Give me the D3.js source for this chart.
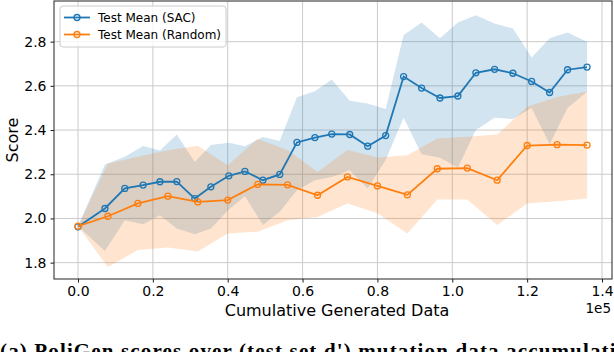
<!DOCTYPE html>
<html>
<head>
<meta charset="utf-8">
<script src="https://cdn.jsdelivr.net/npm/d3@7"></script>
<style>
  body { margin: 0; background: #fff; overflow: hidden; }
  svg { display: block; font-family: "DejaVu Sans", sans-serif; }
</style>
</head>
<body>
<script>
// data, x in raw samples (axis shown as 1e5)
var sacX = [0, 7200, 12500, 17400, 21900, 26400, 31200, 35500, 40300, 44600, 49400, 53900, 58500, 63300, 67800,
            72600, 77400, 82200, 87000, 91800, 96700, 101500, 106300, 111300, 116200, 121200, 126000, 130800, 136000];
var sacMean = [1.962, 2.045, 2.136, 2.151, 2.166, 2.167, 2.09, 2.143, 2.193, 2.213, 2.173, 2.199, 2.344, 2.366, 2.382,
               2.38, 2.327, 2.375, 2.642, 2.59, 2.545, 2.554, 2.659, 2.675, 2.657, 2.62, 2.57, 2.673, 2.685];
var sacUpper = [1.965, 2.244, 2.279, 2.328, 2.308, 2.38, 2.256, 2.332, 2.342, 2.327, 2.369, 2.351, 2.548, 2.576, 2.629,
                2.533, 2.52, 2.495, 2.83, 2.887, 2.815, 2.887, 2.92, 2.882, 2.86, 2.728, 2.815, 2.842, 2.80];
var sacLower = [1.965, 1.853, 1.992, 1.974, 2.015, 1.955, 1.929, 1.955, 2.041, 2.10, 1.97, 2.03, 2.128, 2.173, 2.188,
                2.218, 2.136, 2.264, 2.456, 2.29, 2.275, 2.23, 2.40, 2.456, 2.45, 2.50, 2.336, 2.50, 2.573];

var rndX = [0, 8000, 16000, 24000, 32000, 40000, 48000, 56000, 64000, 72000, 80000, 88000, 96000, 104000, 112000,
            120000, 128000, 136000];
var rndMean = [1.965, 2.01, 2.068, 2.101, 2.075, 2.083, 2.154, 2.152, 2.105, 2.188, 2.147, 2.107, 2.225, 2.228, 2.173,
               2.33, 2.334, 2.332];
var rndUpper = [1.965, 2.249, 2.279, 2.309, 2.329, 2.241, 2.36, 2.31, 2.21, 2.31, 2.276, 2.286, 2.362, 2.37, 2.38,
                2.505, 2.55, 2.575];
var rndLower = [1.965, 1.78, 1.857, 1.869, 1.85, 1.932, 1.94, 1.992, 2.007, 2.068, 2.023, 1.932, 2.086, 2.086, 1.97,
                2.068, 2.078, 2.09];

var xTicks = [0, 20000, 40000, 60000, 80000, 100000, 120000, 140000];
var yTicks = [1.8, 2.0, 2.2, 2.4, 2.6, 2.8];
var seriesNames = ["Test Mean (SAC)", "Test Mean (Random)"];
var caption = "(a) PoliGen scores over (test set d') mutation data accumulation";

var width = 614, height = 352;
var plotL = 54, plotR = 612, plotT = 1, plotB = 279;
var blue = "#1f77b4", orange = "#ff7f0e";

var svg = d3.select("body").append("svg").attr("width", width).attr("height", height);

var xScale = d3.scaleLinear().domain([-6410, 142670]).range([plotL, plotR]);
var yScale = d3.scaleLinear().domain([1.726, 2.984]).range([plotB, plotT]);

// grid
svg.append("g").selectAll("line").data(xTicks).join("line")
    .attr("x1", d => xScale(d)).attr("x2", d => xScale(d))
    .attr("y1", plotT).attr("y2", plotB)
    .attr("stroke", "#cbcbcb").attr("stroke-width", 1);
svg.append("g").selectAll("line").data(yTicks).join("line")
    .attr("x1", plotL).attr("x2", plotR)
    .attr("y1", d => yScale(d)).attr("y2", d => yScale(d))
    .attr("stroke", "#cbcbcb").attr("stroke-width", 1);

function pts(xs, ys) { return xs.map((x, i) => ({ x: x, y: ys[i] })); }
function bandPts(xs, lo, hi) { return xs.map((x, i) => ({ x: x, lo: lo[i], hi: hi[i] })); }

var area = d3.area().x(d => xScale(d.x)).y0(d => yScale(d.lo)).y1(d => yScale(d.hi));
var line = d3.line().x(d => xScale(d.x)).y(d => yScale(d.y));

svg.append("path").attr("d", area(bandPts(sacX, sacLower, sacUpper)))
    .attr("fill", blue).attr("fill-opacity", 0.2);
svg.append("path").attr("d", area(bandPts(rndX, rndLower, rndUpper)))
    .attr("fill", orange).attr("fill-opacity", 0.2);

function drawSeries(data, color) {
    svg.append("path").attr("d", line(data))
        .attr("fill", "none").attr("stroke", color).attr("stroke-width", 1.8);
    svg.append("g").selectAll("circle").data(data).join("circle")
        .attr("cx", d => xScale(d.x)).attr("cy", d => yScale(d.y)).attr("r", 3)
        .attr("fill", "none").attr("stroke", color).attr("stroke-width", 1.3);
}
drawSeries(pts(sacX, sacMean), blue);
drawSeries(pts(rndX, rndMean), orange);

// axes
var xAxis = d3.axisBottom(xScale).tickValues(xTicks).tickSize(3.5).tickPadding(4)
    .tickFormat(d => (d / 1e5).toFixed(1));
var yAxis = d3.axisLeft(yScale).tickValues(yTicks).tickSize(3.5).tickPadding(4)
    .tickFormat(d3.format(".1f"));

var gx = svg.append("g").attr("transform", "translate(0," + plotB + ")").call(xAxis);
var gy = svg.append("g").attr("transform", "translate(" + plotL + ",0)").call(yAxis);
[gx, gy].forEach(function(g) {
    g.select(".domain").remove();
    g.selectAll("text").attr("font-size", 14).attr("fill", "#000").attr("font-family", "DejaVu Sans");
    g.selectAll("line").attr("stroke", "#000").attr("stroke-width", 0.9);
});

// spines
svg.append("rect").attr("x", plotL).attr("y", plotT).attr("width", plotR - plotL).attr("height", plotB - plotT)
    .attr("fill", "none").attr("stroke", "#222").attr("stroke-width", 1);

// labels
svg.append("text").attr("x", (plotL + plotR) / 2 + 4).attr("y", 316).attr("text-anchor", "middle")
    .attr("font-size", 16).text("Cumulative Generated Data");
svg.append("text").attr("x", 611).attr("y", 313).attr("text-anchor", "end")
    .attr("font-size", 13.5).text("1e5");
svg.append("text").attr("transform", "translate(18,140) rotate(-90)").attr("text-anchor", "middle")
    .attr("font-size", 16).text("Score");

// legend
var lg = svg.append("g");
lg.append("rect").attr("x", 60).attr("y", 6).attr("width", 166).attr("height", 41).attr("rx", 3)
    .attr("fill", "#fff").attr("fill-opacity", 0.8).attr("stroke", "#cccccc");
[blue, orange].forEach(function(c, i) {
    var y = 17.5 + i * 17;
    lg.append("line").attr("x1", 64).attr("x2", 90).attr("y1", y).attr("y2", y)
        .attr("stroke", c).attr("stroke-width", 1.8);
    lg.append("circle").attr("cx", 77).attr("cy", y).attr("r", 3)
        .attr("fill", "none").attr("stroke", c).attr("stroke-width", 1.3);
    lg.append("text").attr("x", 98).attr("y", y + 4.3).attr("font-size", 12).text(seriesNames[i]);
});

// caption below the figure, cut off by the frame
svg.append("text").attr("x", 0).attr("y", 358)
    .attr("font-family", "Liberation Serif, serif").attr("font-weight", "bold").attr("font-size", 21)
    .attr("textLength", 640).attr("lengthAdjust", "spacing")
    .text(caption);
</script>
</body>
</html>
